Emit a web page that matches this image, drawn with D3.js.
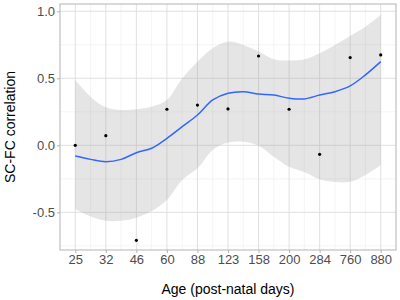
<!DOCTYPE html>
<html>
<head>
<meta charset="utf-8">
<script src="https://cdn.jsdelivr.net/npm/d3@7"></script>
<style>
  body { margin: 0; background: #fff; }
  text { font-family: "Liberation Sans", Arial, sans-serif; }
</style>
</head>
<body>
<div id="chart"></div>
<script>
// age labels (post-natal days), placed at evenly spaced positions 1..11
const ages = ["25", "32", "46", "60", "88", "123", "158", "200", "284", "760", "880"];
const corr = [0.00, 0.072, -0.709, 0.269, 0.30, 0.271, 0.666, 0.269, -0.067, 0.654, 0.674];

// loess fit, at positions 1, 1.5, 2 ... 11
const fitPos = [1, 1.5, 2, 2.5, 3, 3.5, 4, 4.5, 5, 5.5, 6, 6.5, 7, 7.5, 8, 8.5, 9, 9.5, 10, 10.5, 11];
const fit   = [-0.08, -0.105, -0.122, -0.105, -0.055, -0.022, 0.052, 0.139, 0.226, 0.338, 0.388, 0.40, 0.383, 0.375, 0.351, 0.346, 0.375, 0.40, 0.443, 0.525, 0.624];
const upper = [0.487, 0.363, 0.283, 0.263, 0.269, 0.288, 0.338, 0.50, 0.624, 0.724, 0.773, 0.749, 0.70, 0.642, 0.632, 0.642, 0.687, 0.749, 0.816, 0.885, 0.972];
const lower = [-0.475, -0.53, -0.563, -0.563, -0.54, -0.49, -0.408, -0.259, -0.172, -0.035, 0.02, 0.027, -0.003, -0.085, -0.16, -0.2, -0.254, -0.274, -0.272, -0.222, -0.147];

const yTicks = [-0.5, 0, 0.5, 1];

const W = 400, H = 300;
const margin = { top: 4, right: 4, bottom: 50, left: 60 };
const width = W - margin.left - margin.right,
  height = H - margin.top - margin.bottom;

const svg = d3.select("#chart").append("svg")
  .attr("width", W).attr("height", H);
const g = svg.append("g")
  .attr("transform", `translate(${margin.left},${margin.top})`);

const x = d3.scaleLinear().domain([0.5, 11.5]).range([0, width]);
const y = d3.scaleLinear().domain([-0.781, 1.054]).range([height, 0]);

// grid (theme_light)
const minorX = d3.range(1.5, 11, 1);
const minorY = [-0.75, -0.25, 0.25, 0.75];
g.selectAll(".gxm").data(minorX).enter().append("line")
  .attr("x1", d => x(d)).attr("x2", d => x(d))
  .attr("y1", 0).attr("y2", height)
  .attr("stroke", "#eeeeee").attr("stroke-width", 0.6);
g.selectAll(".gym").data(minorY).enter().append("line")
  .attr("x1", 0).attr("x2", width)
  .attr("y1", d => y(d)).attr("y2", d => y(d))
  .attr("stroke", "#eeeeee").attr("stroke-width", 0.6);
g.selectAll(".gx").data(d3.range(1, 12)).enter().append("line")
  .attr("x1", d => x(d)).attr("x2", d => x(d))
  .attr("y1", 0).attr("y2", height)
  .attr("stroke", "#e0e0e0").attr("stroke-width", 1);
g.selectAll(".gy").data(yTicks).enter().append("line")
  .attr("x1", 0).attr("x2", width)
  .attr("y1", d => y(d)).attr("y2", d => y(d))
  .attr("stroke", "#e0e0e0").attr("stroke-width", 1);

// confidence band
const band = fitPos.map((p, i) => ({ p, lo: lower[i], hi: upper[i] }));
g.append("path")
  .datum(band)
  .attr("fill", "#999999")
  .attr("fill-opacity", 0.25)
  .attr("d", d3.area()
    .x(d => x(d.p))
    .y0(d => y(d.lo))
    .y1(d => y(d.hi))
    .curve(d3.curveCatmullRom));

// fitted line
g.append("path")
  .datum(fitPos.map((p, i) => ({ p, v: fit[i] })))
  .attr("fill", "none")
  .attr("stroke", "#3366FF")
  .attr("stroke-width", 1.5)
  .attr("d", d3.line()
    .x(d => x(d.p))
    .y(d => y(d.v))
    .curve(d3.curveCatmullRom));

// points
g.selectAll(".pt").data(corr).enter().append("circle")
  .attr("cx", (d, i) => x(i + 1))
  .attr("cy", d => y(d))
  .attr("r", 1.6)
  .attr("fill", "#000");

// panel border
g.append("rect")
  .attr("x", 0).attr("y", 0)
  .attr("width", width).attr("height", height)
  .attr("fill", "none")
  .attr("stroke", "#b3b3b3").attr("stroke-width", 1);

// axes
const xAxis = g.append("g")
  .attr("transform", `translate(0,${height})`)
  .call(d3.axisBottom(x).tickValues(d3.range(1, 12))
    .tickFormat(d => ages[d - 1]).tickSize(3).tickPadding(2));
const yAxis = g.append("g")
  .call(d3.axisLeft(y).tickValues(yTicks)
    .tickFormat(d => d3.format(".1f")(d).replace("−", "-")).tickSize(3).tickPadding(2));
[xAxis, yAxis].forEach(a => {
  a.select(".domain").remove();
  a.selectAll(".tick line").attr("stroke", "#b3b3b3");
  a.selectAll(".tick text")
    .attr("fill", "#4d4d4d")
    .style("font-size", "13px")
    .style("font-family", "'Liberation Sans', Arial, sans-serif");
});

// axis titles
svg.append("text")
  .attr("x", margin.left + width / 2)
  .attr("y", 294)
  .attr("text-anchor", "middle")
  .style("font-size", "14px")
  .attr("fill", "#000")
  .text("Age (post-natal days)");
svg.append("text")
  .attr("transform", `translate(15,${margin.top + height / 2}) rotate(-90)`)
  .attr("text-anchor", "middle")
  .style("font-size", "14px")
  .attr("fill", "#000")
  .text("SC-FC correlation");
</script>
</body>
</html>
